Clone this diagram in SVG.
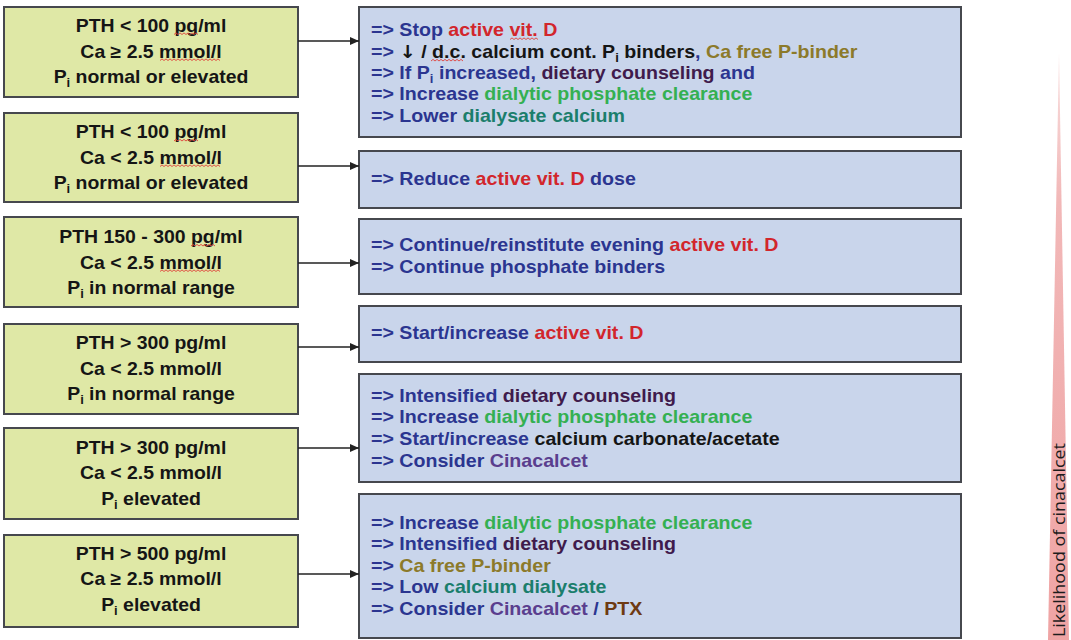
<svg xmlns="http://www.w3.org/2000/svg" width="1071" height="640" viewBox="0 0 1071 640">
  <style>
    .lbox { fill: #dfe8a6; stroke: #46484e; stroke-width: 2; }
    .rbox { fill: #c9d5eb; stroke: #46484e; stroke-width: 2; }
    .lt { font-family: "Liberation Sans", Arial, sans-serif; font-weight: bold; font-size: 18px; fill: #151515; text-anchor: middle; }
    .rt { font-family: "Liberation Sans", Arial, sans-serif; font-weight: bold; font-size: 18px; fill: #2b3590; }
    .sub { font-size: 12px; }
    .arrowch { font-family: "DejaVu Sans", sans-serif; font-weight: bold; }
    .red { fill: #d2262c; }
    .blk { fill: #151515; }
    .olv { fill: #8c7a2a; }
    .pur { fill: #401b4c; }
    .grn { fill: #34b052; }
    .teal { fill: #1b7e6c; }
    .cin { fill: #5a3e8e; }
    .ptx { fill: #6e3a12; }
    .conn { stroke: #222; stroke-width: 1.6; fill: none; marker-end: url(#arr); }
    .squig { fill: none; stroke: #e0403a; stroke-width: 0.9; }
  </style>
  <defs>
    <marker id="arr" markerUnits="userSpaceOnUse" markerWidth="9" markerHeight="8" refX="9" refY="4" orient="auto">
      <path d="M0,0 L9,4 L0,8 z" fill="#222"/>
    </marker>
    <linearGradient id="wedge" x1="0" y1="0" x2="0" y2="1">
      <stop offset="0" stop-color="#f8e0e0"/>
      <stop offset="0.25" stop-color="#f2b8b8"/>
      <stop offset="1" stop-color="#efa4a4"/>
    </linearGradient>
  </defs>
  <rect width="1071" height="640" fill="#ffffff"/>

  <!-- condition boxes (left column) -->
  <g id="cond1">
    <rect class="lbox" x="4" y="7" width="294" height="90"/>
    <text class="lt" transform="translate(151 31.5) scale(1.08 1)">PTH &lt; 100 pg/ml</text>
    <text class="lt" transform="translate(151 57.5) scale(1.08 1)">Ca ≥ 2.5 mmol/l</text>
    <text class="lt" transform="translate(151 83) scale(1.08 1)">P<tspan class="sub" dy="4">i</tspan><tspan dy="-4"> normal or elevated</tspan></text>
  </g>
  <g id="cond2">
    <rect class="lbox" x="4" y="113" width="294" height="89"/>
    <text class="lt" transform="translate(151 138) scale(1.08 1)">PTH &lt; 100 pg/ml</text>
    <text class="lt" transform="translate(151 163.5) scale(1.08 1)">Ca &lt; 2.5 mmol/l</text>
    <text class="lt" transform="translate(151 189) scale(1.08 1)">P<tspan class="sub" dy="4">i</tspan><tspan dy="-4"> normal or elevated</tspan></text>
  </g>
  <g id="cond3">
    <rect class="lbox" x="4" y="217" width="294" height="90"/>
    <text class="lt" transform="translate(151 243) scale(1.08 1)">PTH 150 - 300 pg/ml</text>
    <text class="lt" transform="translate(151 268.5) scale(1.08 1)">Ca &lt; 2.5 mmol/l</text>
    <text class="lt" transform="translate(151 294) scale(1.08 1)">P<tspan class="sub" dy="4">i</tspan><tspan dy="-4"> in normal range</tspan></text>
  </g>
  <g id="cond4">
    <rect class="lbox" x="4" y="324" width="294" height="90"/>
    <text class="lt" transform="translate(151 349) scale(1.08 1)">PTH &gt; 300 pg/ml</text>
    <text class="lt" transform="translate(151 374.5) scale(1.08 1)">Ca &lt; 2.5 mmol/l</text>
    <text class="lt" transform="translate(151 400) scale(1.08 1)">P<tspan class="sub" dy="4">i</tspan><tspan dy="-4"> in normal range</tspan></text>
  </g>
  <g id="cond5">
    <rect class="lbox" x="4" y="428" width="294" height="91"/>
    <text class="lt" transform="translate(151 453.5) scale(1.08 1)">PTH &gt; 300 pg/ml</text>
    <text class="lt" transform="translate(151 479) scale(1.08 1)">Ca &lt; 2.5 mmol/l</text>
    <text class="lt" transform="translate(151 504.5) scale(1.08 1)">P<tspan class="sub" dy="4">i</tspan><tspan dy="-4"> elevated</tspan></text>
  </g>
  <g id="cond6">
    <rect class="lbox" x="4" y="535" width="294" height="92"/>
    <text class="lt" transform="translate(151 559.5) scale(1.08 1)">PTH &gt; 500 pg/ml</text>
    <text class="lt" transform="translate(151 585) scale(1.08 1)">Ca ≥ 2.5 mmol/l</text>
    <text class="lt" transform="translate(151 610.5) scale(1.08 1)">P<tspan class="sub" dy="4">i</tspan><tspan dy="-4"> elevated</tspan></text>
  </g>

  <!-- action boxes (right column) -->
  <g id="act1">
    <rect class="rbox" x="359" y="7" width="602" height="130"/>
    <text class="rt" transform="translate(371 36.4) scale(1.09 1)">=&gt; Stop <tspan class="red">active vit. D</tspan></text>
    <text class="rt" transform="translate(371 57.7) scale(1.09 1)">=&gt; <tspan class="blk arrowch">↓</tspan><tspan class="blk"> / d.c. calcium cont. P</tspan><tspan class="blk sub" dy="4">i</tspan><tspan class="blk" dy="-4"> binders</tspan>, <tspan class="olv">Ca free P-binder</tspan></text>
    <text class="rt" transform="translate(371 79) scale(1.09 1)">=&gt; If P<tspan class="sub" dy="4">i</tspan><tspan dy="-4"> increased, </tspan><tspan class="pur">dietary counseling</tspan> and</text>
    <text class="rt" transform="translate(371 100.3) scale(1.09 1)">=&gt; Increase <tspan class="grn">dialytic phosphate clearance</tspan></text>
    <text class="rt" transform="translate(371 121.6) scale(1.09 1)">=&gt; Lower <tspan class="teal">dialysate calcium</tspan></text>
  </g>
  <g id="act2">
    <rect class="rbox" x="359" y="151" width="602" height="57"/>
    <text class="rt" transform="translate(371 184.5) scale(1.09 1)">=&gt; Reduce <tspan class="red">active vit. D</tspan> dose</text>
  </g>
  <g id="act3">
    <rect class="rbox" x="359" y="219" width="602" height="75"/>
    <text class="rt" transform="translate(371 250.5) scale(1.09 1)">=&gt; Continue/reinstitute evening <tspan class="red">active vit. D</tspan></text>
    <text class="rt" transform="translate(371 272.5) scale(1.09 1)">=&gt; Continue phosphate binders</text>
  </g>
  <g id="act4">
    <rect class="rbox" x="359" y="306" width="602" height="56"/>
    <text class="rt" transform="translate(371 338.5) scale(1.09 1)">=&gt; Start/increase <tspan class="red">active vit. D</tspan></text>
  </g>
  <g id="act5">
    <rect class="rbox" x="359" y="374" width="602" height="108"/>
    <text class="rt" transform="translate(371 401.5) scale(1.09 1)">=&gt; Intensified <tspan class="pur">dietary counseling</tspan></text>
    <text class="rt" transform="translate(371 422.5) scale(1.09 1)">=&gt; Increase <tspan class="grn">dialytic phosphate clearance</tspan></text>
    <text class="rt" transform="translate(371 444.5) scale(1.09 1)">=&gt; Start/increase <tspan class="blk">calcium carbonate/acetate</tspan></text>
    <text class="rt" transform="translate(371 466.5) scale(1.09 1)">=&gt; Consider <tspan class="cin">Cinacalcet</tspan></text>
  </g>
  <g id="act6">
    <rect class="rbox" x="359" y="494" width="602" height="144"/>
    <text class="rt" transform="translate(371 528.5) scale(1.09 1)">=&gt; Increase <tspan class="grn">dialytic phosphate clearance</tspan></text>
    <text class="rt" transform="translate(371 549.5) scale(1.09 1)">=&gt; Intensified <tspan class="pur">dietary counseling</tspan></text>
    <text class="rt" transform="translate(371 571.5) scale(1.09 1)">=&gt; <tspan class="olv">Ca free P-binder</tspan></text>
    <text class="rt" transform="translate(371 592.5) scale(1.09 1)">=&gt; Low <tspan class="teal">calcium dialysate</tspan></text>
    <text class="rt" transform="translate(371 614.5) scale(1.09 1)">=&gt; Consider <tspan class="cin">Cinacalcet</tspan> / <tspan class="ptx">PTX</tspan></text>
  </g>

  <!-- spell-check squiggles under unit and abbreviation words -->
  <g id="squiggles">
    <path class="squig" d="M174,34.5 l2,-1.6 l2,1.6 l2,-1.6 l2,1.6 l2,-1.6 l2,1.6 l2,-1.6 l2,1.6 l2,-1.6 l2,1.6 l2,-1.6 l2,1.6"/>
    <path class="squig" d="M160,60.5 l2,-1.6 l2,1.6 l2,-1.6 l2,1.6 l2,-1.6 l2,1.6 l2,-1.6 l2,1.6 l2,-1.6 l2,1.6 l2,-1.6 l2,1.6 l2,-1.6 l2,1.6 l2,-1.6 l2,1.6 l2,-1.6 l2,1.6 l2,-1.6 l2,1.6 l2,-1.6 l2,1.6 l2,-1.6 l2,1.6 l2,-1.6 l2,1.6 l2,-1.6 l2,1.6 l2,-1.6 l2,1.6"/>
    <path class="squig" d="M174,141 l2,-1.6 l2,1.6 l2,-1.6 l2,1.6 l2,-1.6 l2,1.6 l2,-1.6 l2,1.6 l2,-1.6 l2,1.6 l2,-1.6 l2,1.6"/>
    <path class="squig" d="M160,166.5 l2,-1.6 l2,1.6 l2,-1.6 l2,1.6 l2,-1.6 l2,1.6 l2,-1.6 l2,1.6 l2,-1.6 l2,1.6 l2,-1.6 l2,1.6 l2,-1.6 l2,1.6 l2,-1.6 l2,1.6 l2,-1.6 l2,1.6 l2,-1.6 l2,1.6 l2,-1.6 l2,1.6 l2,-1.6 l2,1.6 l2,-1.6 l2,1.6 l2,-1.6 l2,1.6 l2,-1.6 l2,1.6"/>
    <path class="squig" d="M191,246 l2,-1.6 l2,1.6 l2,-1.6 l2,1.6 l2,-1.6 l2,1.6 l2,-1.6 l2,1.6 l2,-1.6 l2,1.6 l2,-1.6 l2,1.6"/>
    <path class="squig" d="M160,271.5 l2,-1.6 l2,1.6 l2,-1.6 l2,1.6 l2,-1.6 l2,1.6 l2,-1.6 l2,1.6 l2,-1.6 l2,1.6 l2,-1.6 l2,1.6 l2,-1.6 l2,1.6 l2,-1.6 l2,1.6 l2,-1.6 l2,1.6 l2,-1.6 l2,1.6 l2,-1.6 l2,1.6 l2,-1.6 l2,1.6 l2,-1.6 l2,1.6 l2,-1.6 l2,1.6 l2,-1.6 l2,1.6"/>
    <path class="squig" d="M510,39.5 l2,-1.6 l2,1.6 l2,-1.6 l2,1.6 l2,-1.6 l2,1.6 l2,-1.6 l2,1.6 l2,-1.6 l2,1.6 l2,-1.6 l2,1.6 l2,-1.6 l2,1.6"/>
    <path class="squig" d="M431,61 l2,-1.6 l2,1.6 l2,-1.6 l2,1.6 l2,-1.6 l2,1.6 l2,-1.6 l2,1.6 l2,-1.6 l2,1.6 l2,-1.6 l2,1.6 l2,-1.6 l2,1.6 l2,-1.6 l2,1.6"/>
  </g>

  <!-- connectors: condition -> action -->
  <g id="connectors">
    <line class="conn" x1="298" y1="41" x2="359" y2="41"/>
    <line class="conn" x1="298" y1="166" x2="359" y2="166"/>
    <line class="conn" x1="298" y1="263" x2="359" y2="263"/>
    <line class="conn" x1="298" y1="347" x2="359" y2="347"/>
    <line class="conn" x1="298" y1="448" x2="359" y2="448"/>
    <line class="conn" x1="298" y1="574" x2="359" y2="574"/>
  </g>

  <!-- likelihood wedge -->
  <g id="likelihood">
    <polygon points="1059,53 1048,640 1069,640" fill="url(#wedge)"/>
    <text transform="translate(1065 637) rotate(-90)" font-family="'Open Sans', 'DejaVu Sans', sans-serif" font-size="15.5" fill="#1c1c1c" textLength="194" lengthAdjust="spacingAndGlyphs">Likelihood of cinacalcet</text>
  </g>
</svg>
